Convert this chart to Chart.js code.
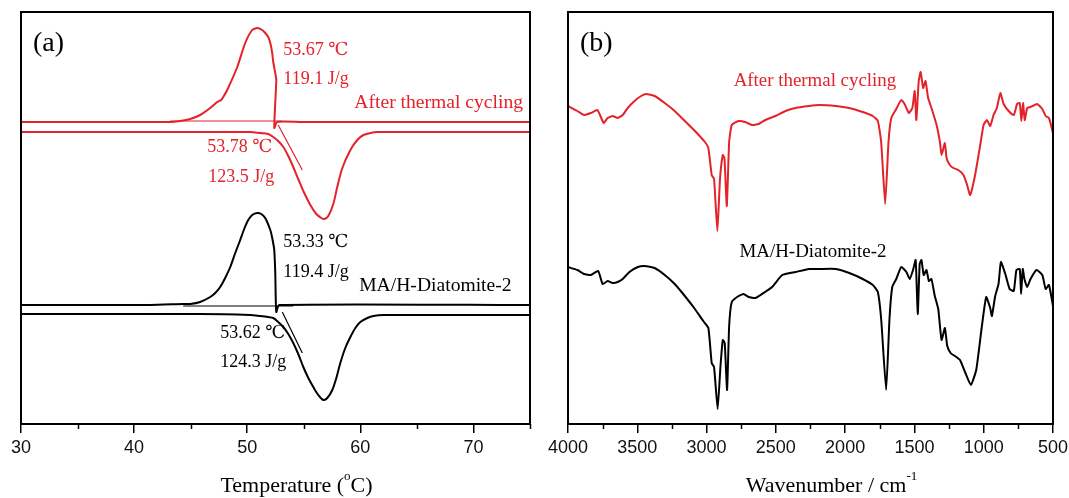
<!DOCTYPE html>
<html>
<head>
<meta charset="utf-8">
<script src="https://cdn.jsdelivr.net/npm/chart.js@4.4.0/dist/chart.umd.min.js"></script>
<style>
  html, body { margin: 0; padding: 0; background: #fff; overflow: hidden; }
  #dscChart { position: absolute; left: 0; top: 0; }
  #ftirChart { position: absolute; left: 540px; top: 0; }
</style>
</head>
<body>
<canvas id="dscChart" width="545" height="498"></canvas>
<canvas id="ftirChart" width="532" height="498"></canvas>
<script>
const red = '#e3222a';
const black = '#000000';
const serif = "'Liberation Serif', 'DejaVu Serif', serif";
const sans = "'Liberation Sans', Arial, sans-serif";

// ---- (a) DSC ----
const dscTicks = [30, 40, 50, 60, 70];
const dscMinorTicks = [35, 45, 55, 65, 75];

// after thermal cycling, cooling run (traced from 75 down to 30)
const cycCoolT  = [75, 54.69, 52.65, 52.39, 52.57, 52.48, 52.30, 52.21, 52.04, 51.86, 51.59, 51.33, 50.88, 50.44, 49.82, 49.12, 48.23, 47.88, 47.70, 47.35, 46.73, 45.84, 44.96, 44.07, 43.19, 30];
const cycCoolHF = [30.2, 30.2, 30.2, 29.6, 34.4, 35.1, 36.2, 37.1, 38.1, 38.7, 39.1, 39.4, 39.6, 39.4, 38.1, 35.7, 33.4, 32.7, 32.4, 32.2, 31.6, 30.9, 30.5, 30.3, 30.2, 30.2];
// after thermal cycling, heating run
const cycHeatT  = [30, 50.27, 51.15, 51.86, 52.30, 52.74, 53.19, 53.63, 54.07, 54.51, 54.96, 55.58, 56.11, 56.55, 56.81, 57.17, 57.61, 57.96, 58.41, 59.12, 59.73, 60.27, 60.88, 61.50, 75];
const cycHeatHF = [29.2, 29.2, 29.1, 29.0, 28.7, 28.3, 27.7, 26.8, 25.7, 24.5, 23.3, 21.9, 21.0, 20.6, 20.5, 20.8, 22.0, 23.7, 25.6, 27.4, 28.4, 28.9, 29.1, 29.2, 29.2];
// MA/H-Diatomite-2, cooling run
const maCoolT  = [75, 52.83, 52.57, 52.48, 52.39, 52.21, 52.04, 51.59, 51.24, 50.88, 50.44, 50.09, 49.73, 49.38, 48.94, 48.50, 48.05, 47.61, 47.17, 46.73, 45.84, 44.96, 44.34, 41.42, 30];
const maCoolHF = [11.9, 11.9, 11.2, 15.1, 17.4, 18.6, 19.4, 20.6, 21.0, 21.1, 20.9, 20.4, 19.5, 18.4, 17.1, 15.7, 14.6, 13.7, 13.1, 12.7, 12.2, 12.0, 12.0, 11.9, 11.9];
// MA/H-Diatomite-2, heating run
const maHeatT  = [30, 45.84, 50.27, 51.15, 51.86, 52.30, 52.74, 53.19, 53.63, 54.07, 54.51, 54.96, 55.40, 55.84, 56.28, 56.73, 57.08, 57.52, 57.88, 58.23, 58.67, 59.12, 59.56, 60.00, 60.62, 61.15, 62.04, 75];
const maHeatHF = [11.0, 11.0, 10.9, 10.8, 10.7, 10.6, 10.2, 9.7, 9.0, 8.1, 7.0, 5.7, 4.6, 3.7, 2.9, 2.4, 2.6, 3.4, 4.6, 6.1, 7.6, 8.7, 9.6, 10.2, 10.6, 10.8, 10.9, 10.9];
// onset / integration construction lines
const cycBaseT = [43.19, 53.10], cycBaseHF = [30.3, 30.3];
const cycOnsetT = [52.74, 54.87], cycOnsetHF = [29.9, 25.4];
const maBaseT = [44.34, 54.07], maBaseHF = [11.8, 11.8];
const maOnsetT = [53.10, 54.87], maOnsetHF = [11.2, 7.1];

const dscNotes = [
  { text: '53.67 ℃', x: 53.19, y: 37.4, color: red },
  { text: '119.1 J/g', x: 53.19, y: 34.5, color: red },
  { text: 'After thermal cycling', x: 59.47, y: 32.1, color: red, size: 19.6 },
  { text: '53.78 ℃', x: 46.46, y: 27.7, color: red },
  { text: '123.5 J/g', x: 46.55, y: 24.7, color: red },
  { text: '53.33 ℃', x: 53.19, y: 18.2, color: black },
  { text: '119.4 J/g', x: 53.19, y: 15.2, color: black },
  { text: 'MA/H-Diatomite-2', x: 59.9, y: 13.8, color: black, size: 19.6 },
  { text: '53.62 ℃', x: 47.61, y: 9.1, color: black },
  { text: '124.3 J/g', x: 47.61, y: 6.2, color: black }
];

// ---- (b) FTIR ----
const ftirTicks = [4000, 3500, 3000, 2500, 2000, 1500, 1000, 500];
const ftirMinorTicks = [3750, 3250, 2750, 2250, 1750, 1250, 750];

const cycWave = [4000, 3932, 3884, 3835, 3787, 3743, 3714, 3678, 3641, 3605, 3569, 3520, 3472, 3436, 3375, 3302, 3230, 3157, 3084, 3012, 2987, 2963, 2946, 2922, 2903, 2883, 2871, 2854, 2837, 2818, 2769, 2721, 2673, 2624, 2576, 2503, 2430, 2358, 2261, 2188, 2067, 1970, 1873, 1800, 1764, 1740, 1711, 1687, 1667, 1631, 1595, 1571, 1540, 1515, 1498, 1486, 1469, 1455, 1437, 1420, 1401, 1377, 1340, 1316, 1304, 1280, 1268, 1244, 1219, 1183, 1146, 1122, 1098, 1062, 1025, 1001, 977, 953, 929, 905, 880, 856, 820, 783, 759, 740, 728, 716, 704, 686, 662, 614, 577, 553, 529, 500];
const cycTrans = [31.8, 31.3, 30.9, 31.1, 31.4, 30.1, 30.6, 30.8, 30.6, 30.9, 31.6, 32.3, 32.8, 33.0, 32.8, 32.1, 31.3, 30.3, 29.3, 28.2, 27.6, 24.9, 24.5, 19.3, 24.5, 26.9, 26.6, 21.8, 28.2, 29.9, 30.3, 30.2, 29.9, 30.0, 30.4, 30.8, 31.3, 31.6, 31.8, 31.9, 31.8, 31.6, 31.2, 30.8, 30.3, 28.2, 22.0, 28.2, 30.6, 31.5, 32.4, 32.0, 31.1, 31.6, 33.3, 30.4, 34.3, 35.2, 33.6, 34.3, 32.6, 31.6, 29.9, 28.2, 26.9, 28.1, 26.6, 25.9, 25.6, 25.4, 24.9, 24.0, 22.9, 24.9, 27.9, 29.9, 30.4, 29.8, 30.9, 31.6, 33.1, 32.0, 31.3, 30.9, 32.0, 32.1, 30.3, 32.1, 30.4, 31.6, 31.7, 32.0, 31.5, 30.8, 30.6, 29.1];

const maWave = [4000, 3932, 3884, 3835, 3782, 3750, 3714, 3678, 3641, 3605, 3557, 3496, 3448, 3375, 3302, 3230, 3157, 3084, 3024, 2987, 2963, 2946, 2920, 2900, 2883, 2869, 2852, 2837, 2818, 2769, 2733, 2697, 2648, 2600, 2527, 2454, 2358, 2261, 2188, 2067, 1970, 1873, 1800, 1764, 1740, 1704, 1680, 1660, 1631, 1595, 1558, 1534, 1510, 1491, 1476, 1462, 1449, 1433, 1413, 1396, 1377, 1353, 1328, 1304, 1280, 1263, 1239, 1208, 1171, 1135, 1093, 1054, 1013, 982, 953, 941, 917, 893, 876, 844, 813, 783, 764, 740, 730, 718, 706, 686, 662, 619, 577, 553, 529, 500];
const maTrans = [15.7, 15.4, 15.0, 14.9, 15.3, 14.0, 14.3, 14.1, 14.2, 14.5, 15.2, 15.7, 15.8, 15.6, 14.9, 14.0, 12.8, 11.5, 10.3, 9.6, 6.1, 5.7, 1.5, 5.7, 8.4, 8.1, 3.4, 9.8, 12.2, 12.8, 13.0, 12.7, 12.6, 13.0, 13.7, 14.9, 15.2, 15.5, 15.5, 15.5, 15.1, 14.5, 13.9, 13.2, 10.5, 3.4, 10.5, 13.7, 14.5, 15.7, 15.2, 14.5, 15.4, 16.4, 11.0, 16.0, 16.4, 14.9, 15.4, 14.3, 14.5, 12.8, 11.5, 8.4, 9.6, 7.8, 7.1, 6.8, 6.4, 5.2, 3.9, 5.4, 9.8, 12.7, 11.6, 10.8, 12.8, 14.0, 16.2, 15.0, 13.5, 13.3, 15.4, 15.5, 13.0, 15.5, 14.5, 13.7, 14.5, 15.4, 14.9, 13.5, 13.9, 11.8];

const ftirNotes = [
  { text: 'After thermal cycling', x: 2218, y: 34.3, color: red, align: 'center', size: 18.9 },
  { text: 'MA/H-Diatomite-2', x: 2232, y: 17.2, color: black, align: 'center', size: 18.9 }
];

const toPoints = (xs, ys) => xs.map((x, i) => ({ x: x, y: ys[i] }));

function curve(xs, ys, color, width, tension) {
  return {
    data: toPoints(xs, ys),
    showLine: true,
    borderColor: color,
    borderWidth: width,
    pointRadius: 0,
    tension: tension,
    fill: false
  };
}

// frame, minor ticks, notes, panel letter and axis title
function decorations(letter, minorTicks, notes, titleParts) {
  return {
    id: 'decor',
    afterDraw(chart) {
      const c = chart.ctx;
      const a = chart.chartArea;
      const xs = chart.scales.x;
      const ys = chart.scales.y;
      c.save();
      c.strokeStyle = '#000';
      c.lineWidth = 2;
      c.strokeRect(a.left, a.top, a.right - a.left, a.bottom - a.top);

      c.lineWidth = 1.5;
      minorTicks.forEach(v => {
        const px = Math.round(xs.getPixelForValue(v)) + 0.5;
        c.beginPath();
        c.moveTo(px, a.bottom);
        c.lineTo(px, a.bottom + 5);
        c.stroke();
      });

      c.textBaseline = 'middle';
      notes.forEach(n => {
        c.font = (n.size || 18) + 'px ' + serif;
        c.fillStyle = n.color;
        c.textAlign = n.align || 'left';
        c.fillText(n.text, xs.getPixelForValue(n.x), ys.getPixelForValue(n.y));
      });

      c.fillStyle = '#000';
      c.textAlign = 'left';
      c.font = '28px ' + serif;
      c.fillText(letter, a.left + 12, a.top + 32);

      // axis title with superscript pieces
      let total = 0;
      titleParts.forEach(p => {
        c.font = (p.sup ? '13px ' : '22px ') + serif;
        total += c.measureText(p.t).width;
      });
      let x = (a.left + a.right) / 2 + 21 - total / 2;
      const y = 486;
      titleParts.forEach(p => {
        c.font = (p.sup ? '13px ' : '22px ') + serif;
        c.fillText(p.t, x, p.sup ? y - 9 : y);
        x += c.measureText(p.t).width;
      });
      c.restore();
    }
  };
}

function panelOptions(xMin, xMax, reverse, ticks, padding) {
  return {
    responsive: false,
    animation: false,
    layout: { padding: padding },
    plugins: { legend: { display: false }, tooltip: { enabled: false } },
    scales: {
      x: {
        type: 'linear',
        min: xMin,
        max: xMax,
        reverse: reverse,
        afterBuildTicks: s => { s.ticks = ticks.map(v => ({ value: v })); },
        afterFit: s => { s.height = 74; },
        ticks: {
          color: '#111',
          font: { family: sans, size: 18 },
          padding: 4,
          maxRotation: 0,
          autoSkip: false,
          callback: v => String(v)
        },
        grid: { display: true, drawOnChartArea: false, drawTicks: true, tickLength: 9, color: '#000', lineWidth: 1.5 },
        border: { display: false }
      },
      y: { display: false, min: 0, max: 41.2 }
    }
  };
}

new Chart(document.getElementById('dscChart'), {
  type: 'scatter',
  data: {
    datasets: [
      curve(cycCoolT, cycCoolHF, red, 2, 0.2),
      curve(cycHeatT, cycHeatHF, red, 2, 0.3),
      curve(cycBaseT, cycBaseHF, red, 1.2, 0),
      curve(cycOnsetT, cycOnsetHF, red, 1.2, 0),
      curve(maCoolT, maCoolHF, black, 2, 0.2),
      curve(maHeatT, maHeatHF, black, 2, 0.3),
      curve(maBaseT, maBaseHF, black, 1.2, 0),
      curve(maOnsetT, maOnsetHF, black, 1.2, 0)
    ]
  },
  options: panelOptions(30, 75, false, dscTicks, { left: 21, right: 15, top: 12, bottom: 0 }),
  plugins: [decorations('(a)', dscMinorTicks, dscNotes,
    [{ t: 'Temperature (' }, { t: 'o', sup: true }, { t: 'C)' }])]
});

new Chart(document.getElementById('ftirChart'), {
  type: 'scatter',
  data: {
    datasets: [
      curve(cycWave, cycTrans, red, 2, 0.15),
      curve(maWave, maTrans, black, 2, 0.15)
    ]
  },
  options: panelOptions(500, 4000, true, ftirTicks, { left: 28, right: 17, top: 12, bottom: 0 }),
  plugins: [decorations('(b)', ftirMinorTicks, ftirNotes,
    [{ t: 'Wavenumber / cm' }, { t: '-1', sup: true }])]
});
</script>
</body>
</html>
